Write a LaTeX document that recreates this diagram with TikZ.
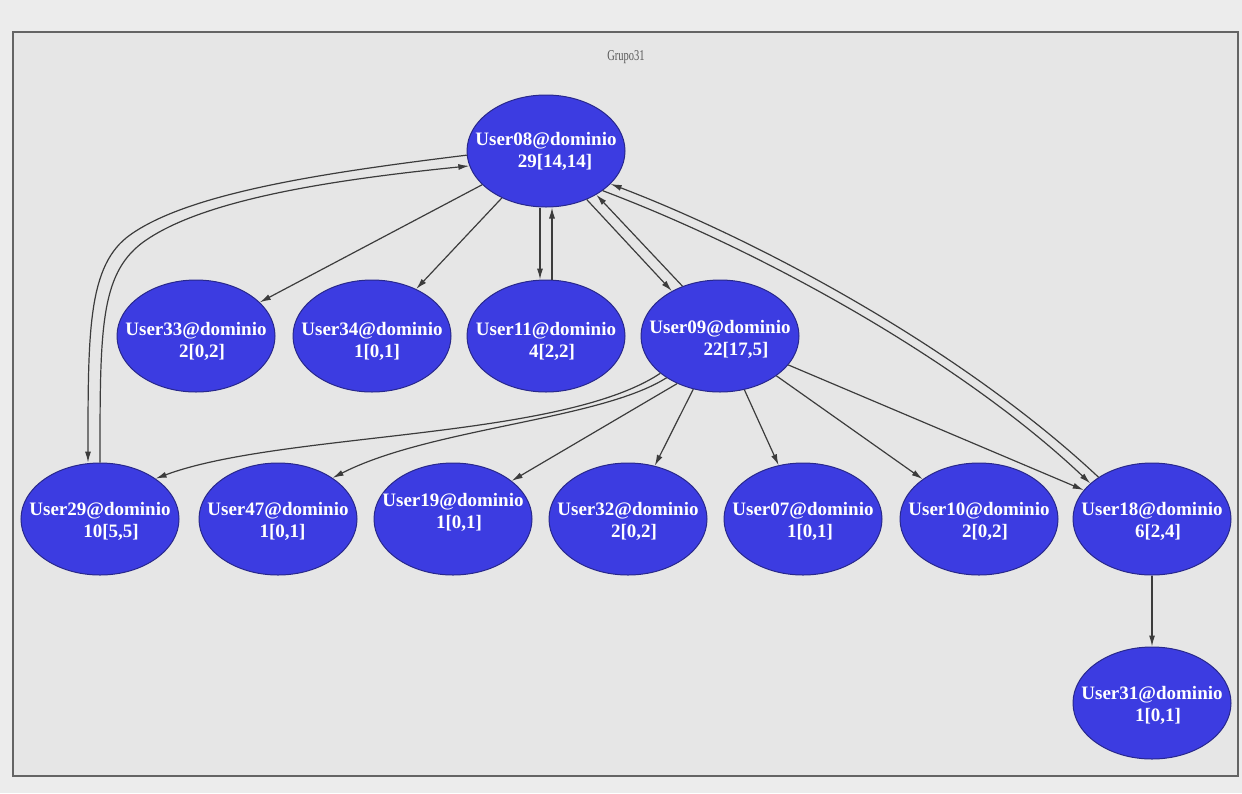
\documentclass[tikz,border=0pt]{standalone}
\usepackage{fontspec}
\setmainfont{Liberation Serif}
\usetikzlibrary{shapes.geometric,arrows.meta}

\definecolor{azulnodo}{RGB}{60,60,225}
\definecolor{bordenodo}{RGB}{40,40,140}
\definecolor{gristrazo}{RGB}{60,60,60}
\definecolor{grismarco}{RGB}{100,100,100}
\definecolor{fondoext}{RGB}{236,236,236}
\definecolor{fondoint}{RGB}{230,230,230}

\tikzset{
  usuario/.style={ellipse, fill=azulnodo, draw=bordenodo, line width=1pt,
    minimum width=158pt, minimum height=112pt, inner sep=0pt},
  rotulo/.style={text=white, align=center, inner sep=0pt,
    font=\fontsize{19}{22}\selectfont\bfseries},
  enlace/.style={draw=gristrazo, line width=1.2pt, -{Latex[length=11pt,width=6pt]}},
}

\begin{document}
\begin{tikzpicture}[x=1pt, y=-1pt]
    % Fondo y marco del grupo.
    \fill[fondoext] (0,0) rectangle (1242,793);
    \filldraw[fill=fondoint, draw=grismarco, line width=1.5pt] (13,32) rectangle (1238,776);
    \node[text=gray!70!black, font=\fontsize{15}{17}\selectfont] (titulo) at (626,57) {\scalebox{0.7}[1]{Grupo31}};

    % Nodos: la segunda línea del rótulo va algo desplazada a la derecha.
    \node[usuario, label={[rotulo]center:{User08@dominio\\\hspace*{18pt}29[14,14]}}] (u08) at (546,151) {};

    \node[usuario, label={[rotulo, yshift=-5pt]center:{User33@dominio\\\hspace*{12pt}2[0,2]}}] (u33) at (196,336) {};
    \node[usuario, label={[rotulo, yshift=-5pt]center:{User34@dominio\\\hspace*{10pt}1[0,1]}}] (u34) at (372,336) {};
    \node[usuario, label={[rotulo, yshift=-5pt]center:{User11@dominio\\\hspace*{12pt}4[2,2]}}] (u11) at (546,336) {};
    \node[usuario, label={[rotulo, yshift=-3pt]center:{User09@dominio\\\hspace*{32pt}22[17,5]}}] (u09) at (720,336) {};

    \node[usuario, label={[rotulo, yshift=-2pt]center:{User29@dominio\\\hspace*{22pt}10[5,5]}}] (u29) at (100,519) {};
    \node[usuario, label={[rotulo, yshift=-2pt]center:{User47@dominio\\\hspace*{9pt}1[0,1]}}] (u47) at (278,519) {};
    \node[usuario, label={[rotulo, yshift=7pt]center:{User19@dominio\\\hspace*{12pt}1[0,1]}}] (u19) at (453,519) {};
    \node[usuario, label={[rotulo, yshift=-2pt]center:{User32@dominio\\\hspace*{12pt}2[0,2]}}] (u32) at (628,519) {};
    \node[usuario, label={[rotulo, yshift=-2pt]center:{User07@dominio\\\hspace*{14pt}1[0,1]}}] (u07) at (803,519) {};
    \node[usuario, label={[rotulo, yshift=-2pt]center:{User10@dominio\\\hspace*{12pt}2[0,2]}}] (u10) at (979,519) {};
    \node[usuario, label={[rotulo, yshift=-2pt]center:{User18@dominio\\\hspace*{12pt}6[2,4]}}] (u18) at (1152,519) {};

    \node[usuario, label={[rotulo, yshift=-2pt]center:{User31@dominio\\\hspace*{12pt}1[0,1]}}] (u31) at (1152,703) {};

    % Aristas que salen de User08 o llegan a él.
    \draw[enlace] (u08) -- (u33);
    \draw[enlace] (u08) -- (u34);
    \draw[enlace] ([xshift=-6pt]u08.south) -- ([xshift=-6pt]u11.north);
    \draw[enlace] ([xshift=6pt]u11.north) -- ([xshift=6pt]u08.south);
    \draw[enlace] (u08.-50) -- (u09.137);
    \draw[enlace] (u09.127) -- (u08.-41);
    \draw[enlace] (u08.-35) .. controls (760,250) and (960,360) .. (u18.150);
    \draw[enlace] (u18.142) .. controls (965,352) and (765,243) .. (u08.-27);
    \draw[enlace] (u08.183) .. controls (330,172) and (190,192) .. (130,235)
        .. controls (88,265) and (88,330) .. ([xshift=-12pt]u29.north);
    \draw[enlace] (u29.north) .. controls (100,330) and (100,275) .. (142,243)
        .. controls (200,200) and (330,180) .. (u08.191);

    % Aristas que salen de User09.
    \draw[enlace] (u09.212) .. controls (560,440) and (280,432) .. (u29.36);
    \draw[enlace] (u09.218) .. controls (600,420) and (430,428) .. (u47.37);
    \draw[enlace] (u09.228) -- (u19.33);
    \draw[enlace] (u09) -- (u32);
    \draw[enlace] (u09) -- (u07);
    \draw[enlace] (u09) -- (u10);
    \draw[enlace] (u09) -- (u18);
    \draw[enlace] (u18) -- (u31);
\end{tikzpicture}
\end{document}
